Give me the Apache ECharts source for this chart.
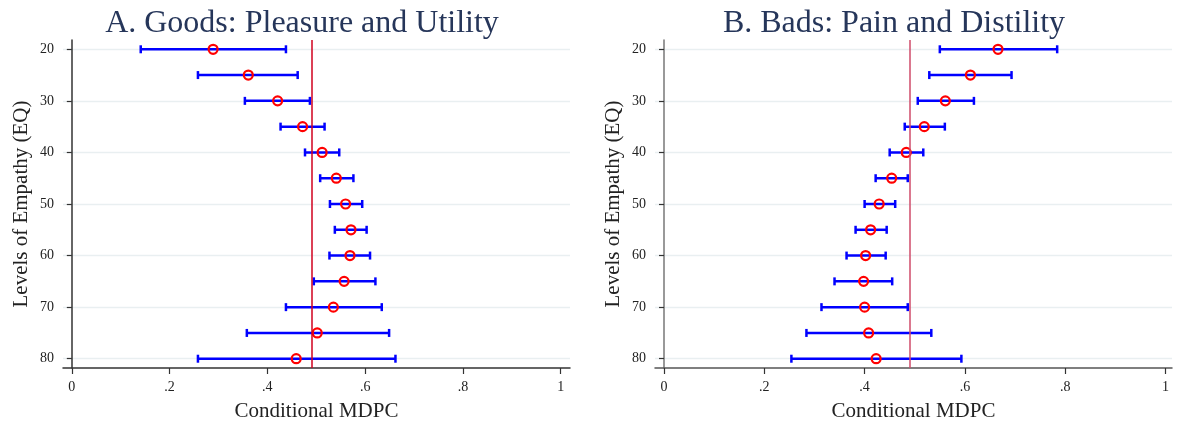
<!DOCTYPE html>
<html>
<head>
<meta charset="utf-8">
<script src="https://cdn.jsdelivr.net/npm/echarts@6/dist/echarts.min.js"></script>
<style>html,body{margin:0;padding:0;background:#fff;}#c{width:1177px;height:422px;}</style>
</head>
<body>
<div id="c"></div>
<script>
const levels = [20,25,30,35,40,45,50,55,60,65,70,75,80];
const yTicks = [20,30,40,50,60,70,80];
const xTicks = [0,0.2,0.4,0.6,0.8,1];
const xTickLabels = ['0','.2','.4','.6','.8','1'];

const goodsEst = [0.289,0.361,0.421,0.472,0.512,0.541,0.560,0.571,0.569,0.557,0.535,0.502,0.459];
const goodsLo  = [0.141,0.258,0.354,0.427,0.477,0.508,0.528,0.538,0.527,0.495,0.438,0.358,0.258];
const goodsHi  = [0.438,0.462,0.487,0.517,0.547,0.576,0.594,0.603,0.610,0.621,0.634,0.649,0.662];
const goodsRef = 0.489;

const badsEst = [0.666,0.611,0.561,0.519,0.483,0.454,0.429,0.412,0.402,0.398,0.400,0.408,0.423];
const badsLo  = [0.550,0.529,0.506,0.480,0.450,0.422,0.400,0.382,0.364,0.340,0.314,0.284,0.254];
const badsHi  = [0.784,0.693,0.618,0.560,0.517,0.486,0.461,0.444,0.442,0.455,0.486,0.533,0.593];
const badsRef = 0.490;

const FONT = 'Liberation Serif';

function barData(lo, hi){ return levels.map((l,i)=>[lo[i], hi[i], l]); }
function ptData(est){ return levels.map((l,i)=>[est[i], l]); }

function renderBar(params, api){
  const p1 = api.coord([api.value(0), api.value(2)]);
  const p2 = api.coord([api.value(1), api.value(2)]);
  const h = 4;
  const st = {stroke:'#0000ff', lineWidth:2.5, fill:null};
  return {type:'group', children:[
    {type:'line', shape:{x1:p1[0],y1:p1[1],x2:p2[0],y2:p2[1]}, style:st},
    {type:'line', shape:{x1:p1[0],y1:p1[1]-h,x2:p1[0],y2:p1[1]+h}, style:st},
    {type:'line', shape:{x1:p2[0],y1:p2[1]-h,x2:p2[0],y2:p2[1]+h}, style:st}
  ]};
}

function xAxis(idx, lineColor, xmax){
  return {
    type:'value', gridIndex:idx, min:-0.018, max:xmax,
    name:'Conditional MDPC', nameLocation:'middle', nameGap:33,
    nameTextStyle:{fontFamily:FONT, fontSize:21, color:'#222'},
    axisLine:{show:true, lineStyle:{color:lineColor, width:1.5}},
    axisTick:{show:true, customValues:xTicks, length:6, lineStyle:{color:'#333', width:1.2}},
    axisLabel:{customValues:xTicks, margin:12, fontFamily:FONT, fontSize:14, color:'#222',
      formatter:v=>{const i=xTicks.findIndex(t=>Math.abs(t-v)<1e-9);return i>=0?xTickLabels[i]:'';}},
    splitLine:{show:false}
  };
}
function yAxis(idx, lineColor){
  return {
    type:'value', gridIndex:idx, inverse:true, min:18.2, max:81.8,
    name:'Levels of Empathy (EQ)', nameLocation:'middle', nameGap:31,
    nameTextStyle:{fontFamily:FONT, fontSize:21, color:'#222'},
    axisLine:{show:true, lineStyle:{color:lineColor, width:1.5}},
    axisTick:{show:true, customValues:yTicks, length:5, lineStyle:{color:'#333', width:1.2}},
    axisLabel:{customValues:yTicks, margin:9, fontFamily:FONT, fontSize:14, color:'#222'},
    splitLine:{show:true, lineStyle:{color:'#e9eff1', width:1.3}}
  };
}
function refLine(v, color){
  return {silent:true, symbol:'none', label:{show:false}, animation:false,
    lineStyle:{color:color, width:1.5, type:'solid'}, data:[{xAxis:v}]};
}

const option = {
  animation:false,
  title:[
    {text:'A. Goods: Pleasure and Utility', left:297, top:3, textAlign:'center',
     textStyle:{fontFamily:FONT, fontSize:32, fontWeight:'normal', color:'#26365a'}},
    {text:'B. Bads: Pain and Distility', left:889, top:3, textAlign:'center',
     textStyle:{fontFamily:FONT, fontSize:32, fontWeight:'normal', color:'#26365a'}}
  ],
  grid:[
    {left:63, top:40, width:507, height:328, outerBoundsMode:'none', containLabel:false},
    {left:655, top:40, width:517, height:328, outerBoundsMode:'none', containLabel:false}
  ],
  xAxis:[xAxis(0,'#333',1.019), xAxis(1,'#555',1.013)],
  yAxis:[yAxis(0,'#333'), yAxis(1,'#777')],
  series:[
    {type:'custom', xAxisIndex:0, yAxisIndex:0, renderItem:renderBar,
     encode:{x:[0,1], y:2}, data:barData(goodsLo, goodsHi), z:2},
    {type:'scatter', xAxisIndex:0, yAxisIndex:0, data:ptData(goodsEst), symbol:'circle', symbolSize:9,
     itemStyle:{color:'rgba(0,0,0,0)', borderColor:'#ff0000', borderWidth:2.2, opacity:1}, z:3,
     markLine:refLine(goodsRef,'#d0001e')},
    {type:'custom', xAxisIndex:1, yAxisIndex:1, renderItem:renderBar,
     encode:{x:[0,1], y:2}, data:barData(badsLo, badsHi), z:2},
    {type:'scatter', xAxisIndex:1, yAxisIndex:1, data:ptData(badsEst), symbol:'circle', symbolSize:9,
     itemStyle:{color:'rgba(0,0,0,0)', borderColor:'#ff0000', borderWidth:2.2, opacity:1}, z:3,
     markLine:refLine(badsRef,'#cf4b6a')}
  ]
};
echarts.init(document.getElementById('c'), null, {renderer:'canvas'}).setOption(option);
</script>
</body>
</html>
